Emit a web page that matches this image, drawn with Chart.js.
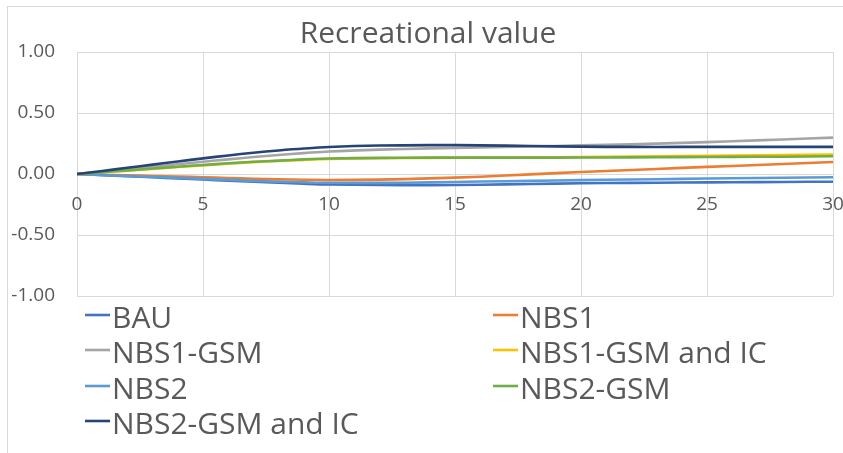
<!DOCTYPE html>
<html>
<head>
<meta charset="utf-8">
<script src="https://cdn.jsdelivr.net/npm/chart.js@4/dist/chart.umd.min.js"></script>
<style>
  html, body { margin: 0; padding: 0; background: #ffffff; }
  #wrap { width: 843px; height: 453px; position: relative; }
</style>
</head>
<body>
<div id="wrap"><canvas id="c" width="843" height="453"></canvas></div>
<script>
const chartTitle = "Recreational value";
const years = [0, 1, 2, 3, 4, 5, 6, 7, 8, 9, 10, 12, 14, 16, 18, 20, 22, 24, 26, 28, 30];
const seriesNames = ["BAU", "NBS1", "NBS1-GSM", "NBS1-GSM and IC", "NBS2", "NBS2-GSM", "NBS2-GSM and IC"];
const seriesColors = ["#4472C4", "#ED7D31", "#A5A5A5", "#FFC000", "#5B9BD5", "#70AD47", "#264478"];
const bau      = [0, -0.009, -0.018, -0.027, -0.036, -0.045, -0.055, -0.064, -0.072, -0.080, -0.086, -0.090, -0.091, -0.088, -0.082, -0.076, -0.073, -0.070, -0.068, -0.065, -0.063];
const nbs1     = [0, -0.006, -0.011, -0.016, -0.021, -0.027, -0.033, -0.039, -0.044, -0.047, -0.049, -0.046, -0.036, -0.022, -0.003, 0.017, 0.033, 0.050, 0.066, 0.082, 0.098];
const nbs1Gsm  = [0, 0.019, 0.039, 0.059, 0.080, 0.100, 0.120, 0.139, 0.156, 0.171, 0.185, 0.200, 0.210, 0.217, 0.225, 0.235, 0.243, 0.255, 0.268, 0.283, 0.298];
const nbs1GsmIc= [0, 0.014, 0.028, 0.042, 0.057, 0.071, 0.085, 0.097, 0.107, 0.116, 0.123, 0.129, 0.132, 0.134, 0.136, 0.139, 0.143, 0.147, 0.151, 0.155, 0.160];
const nbs2     = [0, -0.008, -0.016, -0.024, -0.032, -0.040, -0.048, -0.056, -0.063, -0.068, -0.072, -0.073, -0.069, -0.062, -0.056, -0.050, -0.045, -0.040, -0.035, -0.031, -0.027];
const nbs2Gsm  = [0, 0.015, 0.030, 0.045, 0.060, 0.074, 0.088, 0.100, 0.110, 0.120, 0.127, 0.132, 0.134, 0.134, 0.134, 0.135, 0.136, 0.138, 0.140, 0.142, 0.145];
const nbs2GsmIc= [0, 0.025, 0.051, 0.077, 0.103, 0.128, 0.152, 0.174, 0.193, 0.209, 0.221, 0.233, 0.237, 0.235, 0.230, 0.224, 0.222, 0.222, 0.222, 0.222, 0.222];
const seriesValues = [bau, nbs1, nbs1Gsm, nbs1GsmIc, nbs2, nbs2Gsm, nbs2GsmIc];
const xTicks = [0, 5, 10, 15, 20, 25, 30];
const yTicks = [-1, -0.5, 0, 0.5, 1];

const FONT = "'Open Sans', 'Noto Sans', sans-serif";
const TEXT = "#595959";
const GRID = "#D9D9D9";

const datasets = seriesNames.map((name, i) => ({
  label: name,
  data: years.map((x, j) => ({ x: x, y: seriesValues[i][j] })),
  borderColor: seriesColors[i],
  backgroundColor: seriesColors[i],
  borderWidth: 2.6,
  pointRadius: 0,
  tension: 0.35,
  fill: false,
  order: seriesNames.length - i
}));

const decor = {
  id: 'decor',
  beforeDraw(chart) {
    const ctx = chart.ctx;
    ctx.save();
    ctx.strokeStyle = GRID;
    ctx.lineWidth = 1;
    ctx.strokeRect(7.5, 6.5, 900, 500);
    ctx.restore();
  },
  afterDraw(chart) {
    const ctx = chart.ctx;
    ctx.save();
    ctx.fillStyle = TEXT;
    ctx.font = "30px " + FONT;
    ctx.textAlign = 'center';
    ctx.textBaseline = 'alphabetic';
    ctx.fillText(chartTitle, 428, 43);
    const colX = [85, 493];
    const rowY = [315, 350, 386, 421];
    ctx.textAlign = 'left';
    chart.data.datasets.forEach((ds, i) => {
      const cx = colX[i % 2];
      const cy = rowY[Math.floor(i / 2)];
      ctx.strokeStyle = ds.borderColor;
      ctx.lineWidth = 2.6;
      ctx.beginPath();
      ctx.moveTo(cx, cy);
      ctx.lineTo(cx + 25, cy);
      ctx.stroke();
      ctx.fillStyle = TEXT;
      ctx.fillText(ds.label, cx + 27, cy + 13);
    });
    ctx.restore();
  }
};

new Chart(document.getElementById('c'), {
  type: 'line',
  data: { datasets: datasets },
  options: {
    responsive: false,
    animation: false,
    layout: { padding: { top: 52, right: 10, bottom: 157, left: 0 } },
    plugins: { legend: { display: false }, title: { display: false }, tooltip: { enabled: false } },
    scales: {
      x: {
        type: 'linear',
        position: { y: 0 },
        min: 0, max: 30,
        afterBuildTicks: (s) => { s.ticks = xTicks.map(v => ({ value: v })); },
        afterFit: (s) => { s.paddingLeft = 0; s.paddingRight = 0; },
        ticks: { color: TEXT, font: { family: FONT, size: 19 }, padding: 19, maxRotation: 0, autoSkip: false },
        grid: { color: GRID, lineWidth: 1, drawTicks: false },
        border: { display: false }
      },
      y: {
        type: 'linear',
        min: -1, max: 1,
        afterBuildTicks: (s) => { s.ticks = yTicks.map(v => ({ value: v })); },
        afterFit: (s) => { s.width = 77; s.paddingTop = 0; s.paddingBottom = 0; },
        ticks: { color: TEXT, font: { family: FONT, size: 19 }, padding: 22, callback: (v) => Number(v).toFixed(2) },
        grid: { color: GRID, lineWidth: 1, drawTicks: false },
        border: { display: false }
      }
    }
  },
  plugins: [decor]
});
</script>
</body>
</html>
